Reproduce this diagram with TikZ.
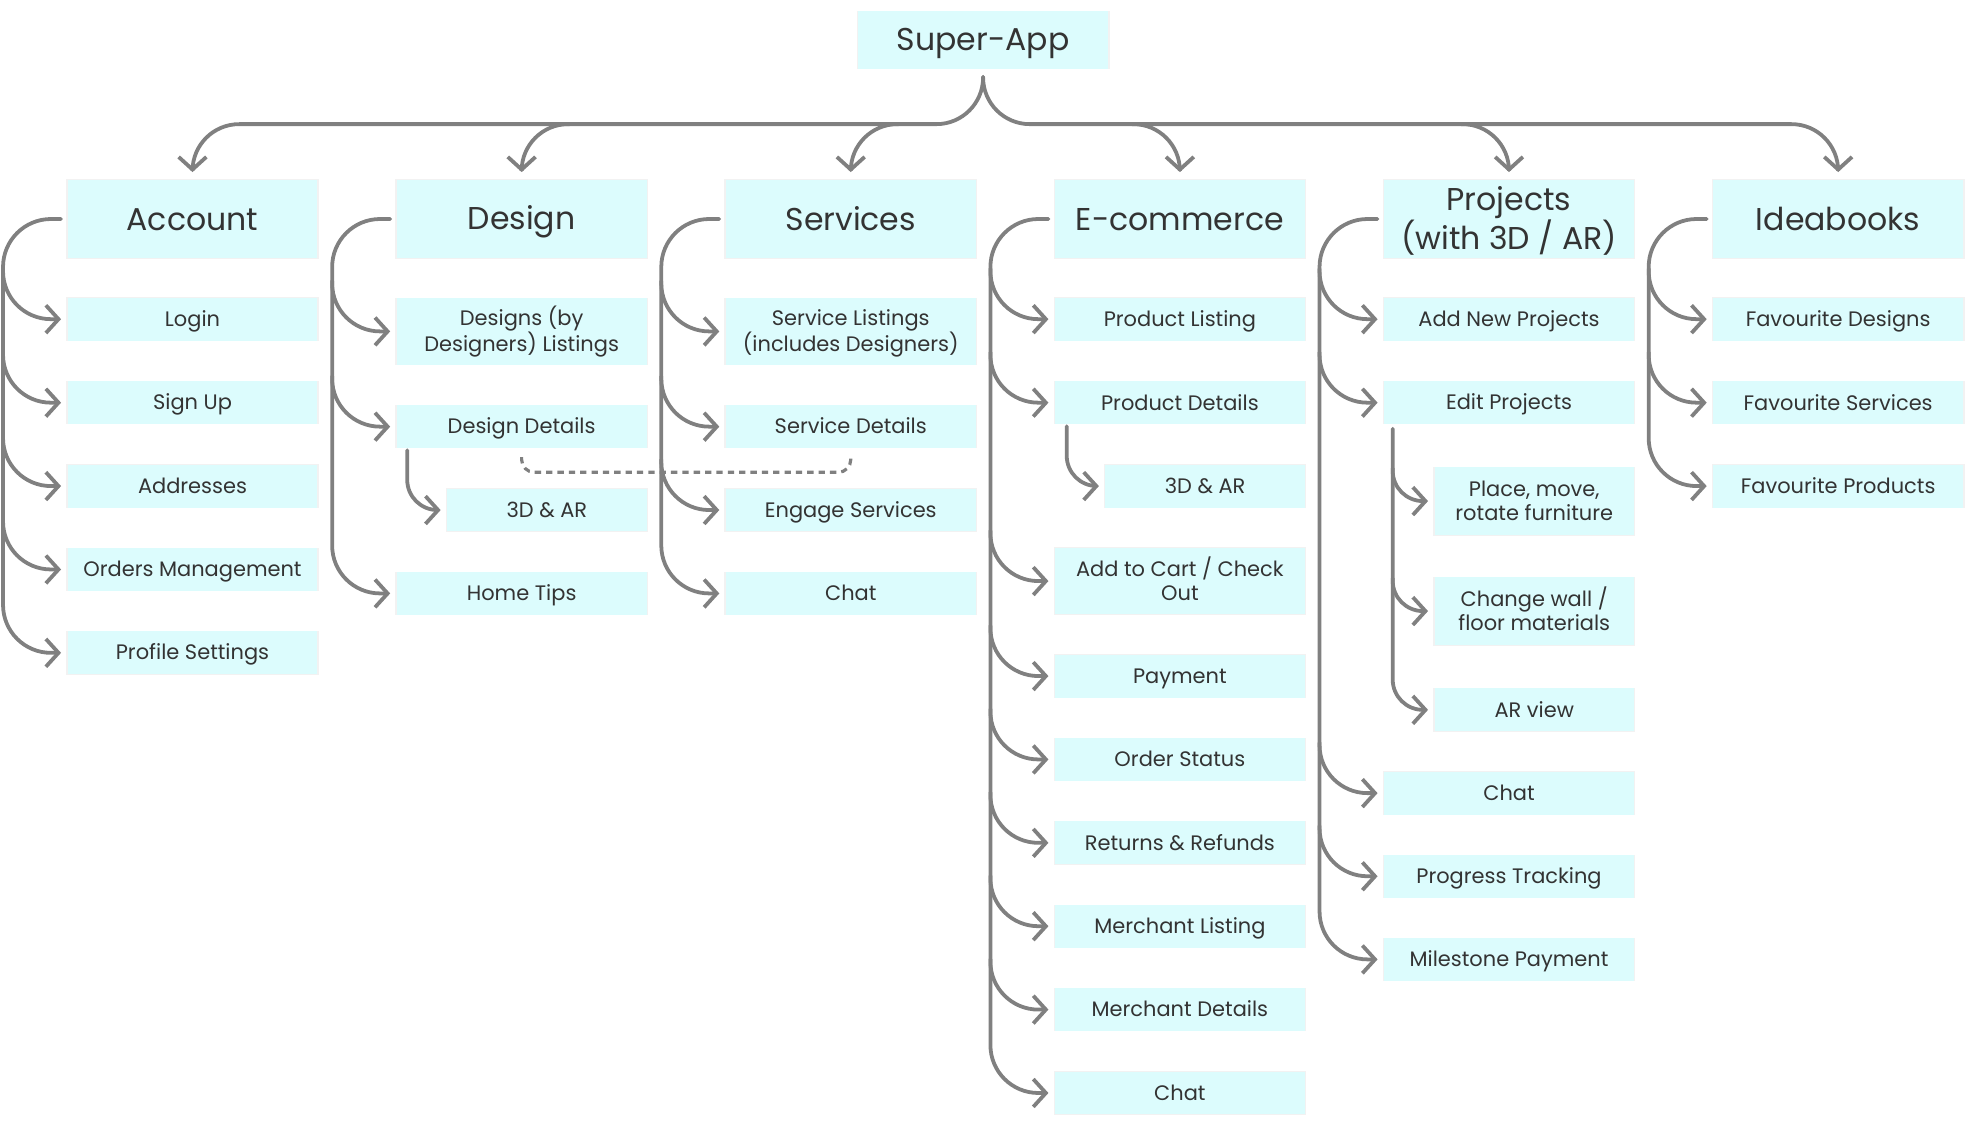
\documentclass[tikz,border=0pt]{standalone}
\usepackage{fontspec}
\setmainfont{Poppins}
\usetikzlibrary{arrows.meta,calc,shadows}
\definecolor{boxc}{HTML}{DCFCFD}
\definecolor{linec}{HTML}{808080}
\definecolor{txtc}{HTML}{333333}
\newcommand\st{\rule[-0.25em]{0pt}{1.2em}}
\newcommand\sth{\rule{0pt}{0.95em}}
\newcommand\std{\rule[-0.25em]{0pt}{0.25em}}
\begin{document}
\begin{tikzpicture}[x=1pt,y=-1pt,
  box/.style={fill=boxc,text=txtc,minimum width=198pt,minimum height=34pt,inner sep=0pt,align=center,
    font=\fontsize{16.6}{19}\selectfont,
    general shadow={fill=black,opacity=0.05,shadow scale=1.012}},
  tall/.style={box,minimum height=53pt},
  sub/.style={box,minimum width=158pt},
  hbox/.style={box,minimum height=62pt,font=\fontsize{25}{29}\selectfont},
  conn/.style={draw=linec,line width=3pt,line cap=round,rounded corners=38pt,-{Straight Barb[length=10pt,width=22pt]}},
  subconn/.style={conn,rounded corners=24pt},
  dashc/.style={draw=linec,line width=2.5pt,dash pattern=on 5pt off 4pt,rounded corners=10pt}
]
\useasboundingbox (0,0) rectangle (1564,898);

% top
\node[hbox,minimum height=46pt] (sa) at (779.3,31.7) {\st Super-App};

% headers
\node[hbox] (acc) at (152.6,173.6) {\st Account};
\node[hbox] (des) at (413.5,173.6) {\st Design};
\node[hbox] (ser) at (674.4,173.6) {\st Services};
\node[hbox] (eco) at (935.3,173.6) {\st E-commerce};
\node[hbox] (pro) at (1196.2,173.6) {\sth Projects\\(with 3D / AR)\std};
\node[hbox] (ide) at (1457.1,173.6) {\st Ideabooks};

% Account
\node[box] (a1) at (152.6,253) {\st Login};
\node[box] (a2) at (152.6,319.2) {\st Sign Up};
\node[box] (a3) at (152.6,385.3) {\st Addresses};
\node[box] (a4) at (152.6,451.4) {\st Orders Management};
\node[box] (a5) at (152.6,517.5) {\st Profile Settings};

% Design
\node[tall] (d1) at (413.5,262.7) {\sth Designs (by\\Designers) Listings\std};
\node[box] (d2) at (413.5,338.2) {\st Design Details};
\node[sub] (d3) at (433.5,404.3) {\st 3D \& AR};
\node[box] (d4) at (413.5,470.4) {\st Home Tips};

% Services
\node[tall] (s1) at (674.4,262.7) {\sth Service Listings\\(includes Designers)\std};
\node[box] (s2) at (674.4,338.2) {\st Service Details};
\node[box] (s3) at (674.4,404.3) {\st Engage Services};
\node[box] (s4) at (674.4,470.4) {\st Chat};

% E-commerce
\node[box] (e1) at (935.3,253) {\st Product Listing};
\node[box] (e2) at (935.3,319.2) {\st Product Details};
\node[sub] (e3) at (955.3,385.3) {\st 3D \& AR};
\node[tall] (e4) at (935.3,460.6) {\sth Add to Cart / Check\\Out\std};
\node[box] (e5) at (935.3,535.9) {\st Payment};
\node[box] (e6) at (935.3,602.0) {\st Order Status};
\node[box] (e7) at (935.3,668.1) {\st Returns \& Refunds};
\node[box] (e8) at (935.3,734.2) {\st Merchant Listing};
\node[box] (e9) at (935.3,800.3) {\st Merchant Details};
\node[box] (e10) at (935.3,866.4) {\st Chat};

% Projects
\node[box] (p1) at (1196.2,253) {\st Add New Projects};
\node[box] (p2) at (1196.2,319.2) {\st Edit Projects};
\node[sub,minimum height=54pt] (p3) at (1216.2,397.2) {\sth Place, move,\\rotate furniture\std};
\node[sub,minimum height=54pt] (p4) at (1216.2,484.4) {\sth Change wall /\\floor materials\std};
\node[sub] (p5) at (1216.2,562.7) {\st AR view};
\node[box] (p6) at (1196.2,628.7) {\st Chat};
\node[box] (p7) at (1196.2,694.6) {\st Progress Tracking};
\node[box] (p8) at (1196.2,760.5) {\st Milestone Payment};

% Ideabooks
\node[box] (i1) at (1457.1,253) {\st Favourite Designs};
\node[box] (i2) at (1457.1,319.2) {\st Favourite Services};
\node[box] (i3) at (1457.1,385.3) {\st Favourite Products};

% ---- top connectors
\draw[conn,rounded corners=37pt] ($(sa.south)+(0,6)$) |- ($(acc.north)+(0,-44)$) -- ($(acc.north)+(0,-6)$);
\draw[conn,rounded corners=37pt] ($(sa.south)+(0,6)$) |- ($(ide.north)+(0,-44)$) -- ($(ide.north)+(0,-6)$);
\foreach \n/\s in {des/38,ser/38,eco/-38,pro/-38}{
  \draw[conn,rounded corners=37pt] ($(\n.north)+(\s,-44)$) -| ($(\n.north)+(0,-6)$);
}

% ---- column spines
\foreach \h/\l in {acc/a5,des/d4,ser/s4,eco/e10,pro/p8,ide/i3}{
  \draw[conn] ($(\h.west)+(-5,0)$) -| ($(\l.west)+(-51,0)$) -- ($(\l.west)+(-5,0)$);
}
\foreach \c in {a1,a2,a3,a4,d1,d2,s1,s2,s3,e1,e2,e4,e5,e6,e7,e8,e9,p1,p2,p6,p7,i1,i2}{
  \draw[conn] ($(\c.west)+(-51,-40)$) |- ($(\c.west)+(-5,0)$);
}

% ---- sub branches
\draw[subconn] ($(d2.south west)+(8.5,1.5)$) |- ($(d3.west)+(-5,0)$);
\draw[subconn] ($(e2.south west)+(9.5,1.5)$) |- ($(e3.west)+(-5,0)$);
\draw[subconn] ($(p2.south west)+(7,3.5)$) |- ($(p5.west)+(-5,0)$);
\foreach \c in {p3,p4}{
  \draw[subconn] ($(\c.west)+(-33,-26)$) |- ($(\c.west)+(-5,0)$);
}

% ---- dashed link
\draw[dashc] ($(d2.south)+(0,7)$) |- ($(s2.south)+(0,19)$) -- ($(s2.south)+(0,7)$);
\end{tikzpicture}
\end{document}
